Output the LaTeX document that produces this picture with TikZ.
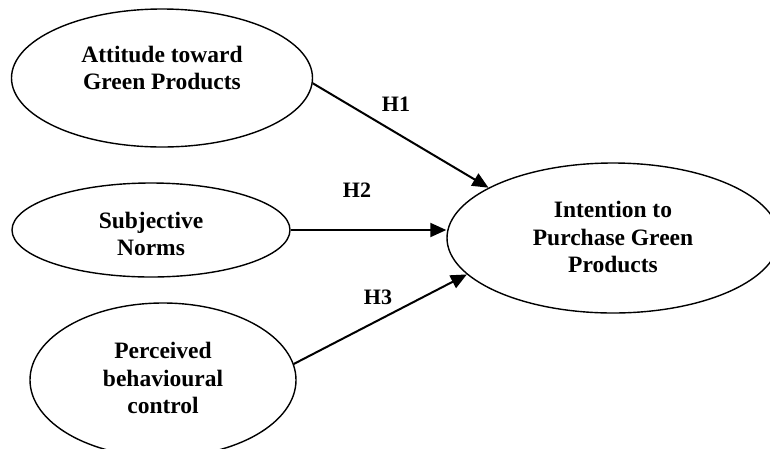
\documentclass[tikz,border=0pt]{standalone}
\usepackage{fontspec}
\setmainfont{Liberation Serif}
\usetikzlibrary{shapes.geometric,arrows.meta}
\tikzset{
  oval/.style={draw=black, line width=1.4pt, ellipse, inner sep=0pt},
  lbl/.style={font=\bfseries\fontsize{23.5}{27.5}\selectfont, align=center, inner sep=0pt},
  hyp/.style={font=\bfseries\fontsize{22}{26}\selectfont, inner sep=0pt},
  link/.style={line width=2pt, -{Triangle[length=16pt,width=14pt]}}
}
\begin{document}
\begin{tikzpicture}[x=1pt,y=-1pt]
\useasboundingbox (0,0) rectangle (770,448);
\clip (0,0) rectangle (770,448);
\node[oval, minimum width=301pt, minimum height=138pt] (e1) at (162,78) {};
\node[oval, minimum width=278pt, minimum height=94pt] (e2) at (151,230) {};
\node[oval, minimum width=266pt, minimum height=154pt] (e3) at (163,380) {};
\node[oval, minimum width=332pt, minimum height=150pt] (e4) at (613,238) {};
\node[lbl] (t1) at (162,68) {Attitude toward\\Green Products};
\node[lbl] (t2) at (151,234) {Subjective\\Norms};
\node[lbl] (t3) at (163,378) {Perceived\\behavioural\\control};
\node[lbl] (t4) at (613,237) {Intention to\\Purchase Green\\Products};
\draw[link] (e1.-2) -- (e4.158);
\draw[link] (e2.east) -- (e2.east -| e4.west);
\draw[link] (e3.7) -- (e4.-166);
\node[hyp] (h1) at (396,104) {H1};
\node[hyp] (h2) at (357,190) {H2};
\node[hyp] (h3) at (378,297) {H3};
\end{tikzpicture}
\end{document}
